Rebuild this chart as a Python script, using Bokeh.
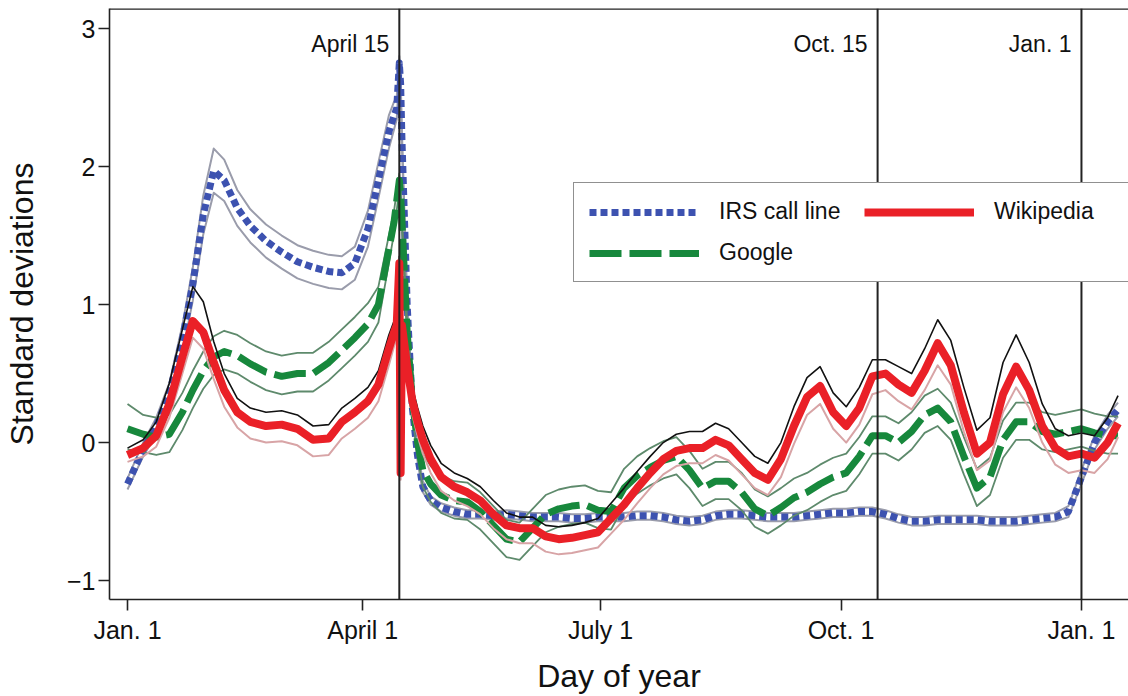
from bokeh.plotting import figure
from bokeh.models import Span, Label, Legend, LegendItem, FixedTicker, Range1d
from bokeh.embed import file_html
from bokeh.resources import INLINE

FONT = "Liberation Sans"

# ---- data (day of year, 0 = Jan. 1) ----
days = [0, 6, 11, 16, 21, 25, 29, 33, 37, 42,
        47, 53, 59, 65, 71, 77, 82, 87, 92, 96,
        100, 102, 103, 104, 104.5, 105, 106, 107, 109, 111,
        113, 116, 120,
        125, 130, 135, 140, 145, 150, 155, 160, 165, 170,
        175, 180, 185, 190, 195, 200, 205, 210, 215, 220,
        225, 230, 235, 240, 245, 250, 255, 260, 265, 270,
        275, 280, 285, 290, 295, 300, 305, 310, 315, 320,
        325, 330, 335, 340, 345, 350, 355, 360, 365, 370,
        375, 379]

irs = [-0.30, -0.05, 0.12, 0.35, 0.75, 1.15, 1.65, 1.97, 1.90, 1.70,
       1.57, 1.46, 1.38, 1.31, 1.27, 1.24, 1.23, 1.30, 1.55, 1.90,
       2.25, 2.37, 2.42, 2.75, 2.60, 2.20, 1.60, 1.00, 0.25, -0.10,
       -0.32, -0.42, -0.47,
       -0.50, -0.52, -0.52, -0.53, -0.52, -0.53, -0.54, -0.54, -0.54, -0.55,
       -0.55, -0.54, -0.54, -0.54, -0.53, -0.53, -0.54, -0.56, -0.57, -0.56,
       -0.53, -0.52, -0.52, -0.53, -0.54, -0.54, -0.54, -0.53, -0.52, -0.51,
       -0.51, -0.50, -0.50, -0.52, -0.55, -0.57, -0.57, -0.56, -0.56, -0.56,
       -0.56, -0.57, -0.57, -0.57, -0.56, -0.55, -0.54, -0.50, -0.25, 0.00,
       0.15, 0.24]
irs_hi = [-0.26, 0.00, 0.18, 0.43, 0.85, 1.27, 1.79, 2.13, 2.05, 1.83,
          1.69, 1.58, 1.50, 1.43, 1.39, 1.36, 1.35, 1.42, 1.68, 2.03,
          2.37, 2.47, 2.50, 2.80, 2.65, 2.25, 1.65, 1.05, 0.30, -0.06,
          -0.28, -0.39, -0.44,
          -0.47, -0.49, -0.49, -0.50, -0.49, -0.50, -0.51, -0.51, -0.51, -0.52,
          -0.52, -0.51, -0.51, -0.51, -0.50, -0.50, -0.51, -0.53, -0.54, -0.53,
          -0.50, -0.49, -0.49, -0.50, -0.51, -0.51, -0.51, -0.50, -0.49, -0.48,
          -0.48, -0.47, -0.47, -0.49, -0.52, -0.54, -0.54, -0.53, -0.53, -0.53,
          -0.53, -0.54, -0.54, -0.54, -0.53, -0.52, -0.51, -0.46, -0.20, 0.05,
          0.20, 0.29]
irs_lo = [-0.34, -0.10, 0.06, 0.27, 0.65, 1.03, 1.51, 1.81, 1.75, 1.57,
          1.45, 1.34, 1.26, 1.19, 1.15, 1.12, 1.11, 1.18, 1.42, 1.77,
          2.13, 2.27, 2.34, 2.70, 2.55, 2.15, 1.55, 0.95, 0.20, -0.14,
          -0.36, -0.45, -0.50,
          -0.53, -0.55, -0.55, -0.56, -0.55, -0.56, -0.57, -0.57, -0.57, -0.58,
          -0.58, -0.57, -0.57, -0.57, -0.56, -0.56, -0.57, -0.59, -0.60, -0.59,
          -0.56, -0.55, -0.55, -0.56, -0.57, -0.57, -0.57, -0.56, -0.55, -0.54,
          -0.54, -0.53, -0.53, -0.55, -0.58, -0.60, -0.60, -0.59, -0.59, -0.59,
          -0.59, -0.60, -0.60, -0.60, -0.59, -0.58, -0.57, -0.54, -0.30, -0.05,
          0.10, 0.19]

google = [0.10, 0.06, 0.04, 0.06, 0.22, 0.38, 0.52, 0.62, 0.66, 0.63,
          0.57, 0.51, 0.48, 0.50, 0.50, 0.58, 0.67, 0.76, 0.86, 1.00,
          1.40, 1.60, 1.75, 1.90, 1.80, 1.60, 1.20, 0.80, 0.30, 0.00,
          -0.20, -0.30, -0.38,
          -0.42, -0.43, -0.50, -0.60, -0.70, -0.72, -0.62, -0.52, -0.48, -0.46,
          -0.45, -0.49, -0.50, -0.33, -0.24, -0.18, -0.13, -0.10, -0.20, -0.33,
          -0.28, -0.28, -0.36, -0.48, -0.53, -0.47, -0.40, -0.36, -0.30, -0.25,
          -0.22, -0.10, 0.05, 0.05, 0.00, 0.08, 0.20, 0.25, 0.15, -0.10,
          -0.33, -0.25, 0.02, 0.15, 0.15, 0.08, 0.06, 0.08, 0.10, 0.07,
          0.05, 0.05]
google_hi = [0.28, 0.20, 0.18, 0.20, 0.36, 0.52, 0.66, 0.77, 0.81, 0.78,
             0.72, 0.66, 0.63, 0.65, 0.65, 0.73, 0.82, 0.91, 1.01, 1.13,
             1.50, 1.68, 1.82, 1.95, 1.85, 1.65, 1.26, 0.88, 0.40, 0.10,
             -0.08, -0.17, -0.24,
             -0.28, -0.29, -0.36, -0.46, -0.56, -0.58, -0.48, -0.38, -0.34, -0.32,
             -0.31, -0.35, -0.36, -0.19, -0.10, -0.04, 0.01, 0.04, -0.06, -0.19,
             -0.14, -0.14, -0.22, -0.34, -0.39, -0.33, -0.26, -0.22, -0.16, -0.11,
             -0.08, 0.04, 0.19, 0.19, 0.14, 0.22, 0.34, 0.39, 0.29, 0.04,
             -0.19, -0.11, 0.16, 0.29, 0.29, 0.22, 0.20, 0.22, 0.24, 0.21,
             0.19, 0.19]
google_lo = [-0.05, -0.07, -0.09, -0.07, 0.09, 0.25, 0.39, 0.49, 0.53, 0.50,
             0.44, 0.38, 0.35, 0.37, 0.37, 0.45, 0.54, 0.63, 0.73, 0.87,
             1.30, 1.52, 1.68, 1.85, 1.75, 1.55, 1.14, 0.72, 0.20, -0.10,
             -0.32, -0.43, -0.51,
             -0.55, -0.56, -0.63, -0.73, -0.83, -0.85, -0.75, -0.65, -0.61, -0.59,
             -0.58, -0.62, -0.63, -0.46, -0.37, -0.31, -0.26, -0.23, -0.33, -0.46,
             -0.41, -0.41, -0.49, -0.61, -0.66, -0.60, -0.53, -0.49, -0.43, -0.38,
             -0.35, -0.23, -0.08, -0.08, -0.13, -0.05, 0.07, 0.12, 0.02, -0.23,
             -0.46, -0.38, -0.11, 0.02, 0.02, -0.05, -0.07, -0.05, -0.03, -0.06,
             -0.08, -0.08]

wiki = [-0.09, -0.04, 0.05, 0.28, 0.62, 0.88, 0.80, 0.58, 0.38, 0.22,
        0.15, 0.12, 0.13, 0.10, 0.02, 0.03, 0.15, 0.22, 0.30, 0.42,
        0.68, 0.80, 0.85, 1.30, -0.22, 0.85, 0.70, 0.55, 0.30, 0.15,
        0.02, -0.12, -0.25,
        -0.32, -0.36, -0.42, -0.52, -0.60, -0.62, -0.62, -0.68, -0.70, -0.69,
        -0.67, -0.65, -0.55, -0.45, -0.33, -0.22, -0.12, -0.06, -0.04, -0.04,
        0.02, -0.02, -0.12, -0.22, -0.27, -0.12, 0.12, 0.33, 0.41, 0.22,
        0.12, 0.25, 0.48, 0.50, 0.42, 0.36, 0.52, 0.72, 0.56, 0.22,
        -0.08, 0.00, 0.35, 0.55, 0.38, 0.12, -0.04, -0.10, -0.08, -0.11,
        0.00, 0.14]
wiki_hi = [-0.04, 0.02, 0.15, 0.43, 0.82, 1.13, 1.02, 0.73, 0.50, 0.32,
           0.25, 0.22, 0.23, 0.20, 0.12, 0.13, 0.25, 0.32, 0.40, 0.52,
           0.78, 0.88, 0.92, 1.35, -0.17, 0.90, 0.78, 0.65, 0.40, 0.25,
           0.12, -0.02, -0.15,
           -0.22, -0.26, -0.32, -0.42, -0.51, -0.54, -0.54, -0.60, -0.61, -0.60,
           -0.58, -0.55, -0.44, -0.33, -0.21, -0.10, 0.00, 0.06, 0.08, 0.08,
           0.14, 0.10, 0.00, -0.10, -0.15, 0.00, 0.26, 0.47, 0.55, 0.36,
           0.26, 0.40, 0.60, 0.60, 0.55, 0.50, 0.68, 0.89, 0.74, 0.40,
           0.09, 0.18, 0.58, 0.78, 0.58, 0.28, 0.10, 0.05, 0.07, 0.05,
           0.18, 0.34]
wiki_lo = [-0.14, -0.10, -0.03, 0.18, 0.50, 0.76, 0.68, 0.46, 0.26, 0.11,
           0.03, 0.00, 0.01, -0.02, -0.10, -0.09, 0.03, 0.10, 0.18, 0.30,
           0.56, 0.70, 0.76, 1.22, -0.27, 0.78, 0.60, 0.45, 0.20, 0.05,
           -0.08, -0.22, -0.35,
           -0.42, -0.46, -0.52, -0.62, -0.70, -0.73, -0.73, -0.79, -0.81, -0.80,
           -0.78, -0.76, -0.66, -0.56, -0.44, -0.33, -0.23, -0.17, -0.15, -0.15,
           -0.09, -0.13, -0.23, -0.33, -0.38, -0.25, -0.01, 0.20, 0.28, 0.10,
           0.00, 0.13, 0.35, 0.38, 0.30, 0.24, 0.38, 0.56, 0.42, 0.08,
           -0.20, -0.13, 0.22, 0.40, 0.25, 0.00, -0.16, -0.22, -0.20, -0.22,
           -0.12, 0.04]

tick_days = [0, 90, 181, 273, 365]
tick_labels = ["Jan. 1", "April 1", "July 1", "Oct. 1", "Jan. 1"]
y_ticks = [-1, 0, 1, 2, 3]
event_days = [104, 287, 365]
event_labels = ["April 15", "Oct. 15", "Jan. 1"]

# ---- figure (Bokeh's page template has no body margin) ----
p = figure(width=1128, height=696, output_backend="svg", toolbar_location=None,
           x_range=Range1d(-6.89, 383.0), y_range=Range1d(-1.137, 3.145),
           min_border_left=109, min_border_right=0, min_border_top=8,
           min_border_bottom=96)
p.outline_line_color = None
p.xgrid.grid_line_color = None
p.ygrid.grid_line_color = None
p.background_fill_color = "white"

for ax in (p.xaxis[0], p.yaxis[0]):
    ax.axis_line_width = 1.6
    ax.axis_line_color = "#222222"
    ax.major_tick_line_width = 1.6
    ax.major_tick_line_color = "#222222"
    ax.major_tick_in = 0
    ax.major_tick_out = 11
    ax.minor_tick_line_color = None
    ax.major_label_text_font = FONT
    ax.major_label_text_font_size = "25px"
    ax.major_label_text_color = "#111111"
    ax.axis_label_text_font = FONT
    ax.axis_label_text_font_size = "32px"
    ax.axis_label_text_font_style = "normal"
    ax.axis_label_text_color = "#111111"

p.xaxis.ticker = FixedTicker(ticks=tick_days)
p.xaxis.major_label_overrides = {d: l for d, l in zip(tick_days, tick_labels)}
p.xaxis.major_label_standoff = 5
p.xaxis.axis_label = "Day of year"
p.xaxis.axis_label_standoff = 11

p.yaxis.ticker = FixedTicker(ticks=y_ticks)
p.yaxis.major_label_overrides = {-1: "\u22121"}
p.yaxis.major_label_standoff = 3
p.yaxis.axis_label = "Standard deviations"
p.yaxis.axis_label_standoff = 24

# top frame line
p.add_layout(Span(location=p.y_range.end, dimension="width",
                  line_color="#222222", line_width=2.5))

# event lines and labels
for d, lab in zip(event_days, event_labels):
    p.add_layout(Span(location=d, dimension="height", line_color="#222222",
                      line_width=2))
    p.add_layout(Label(x=d, y=2.89, text=lab, x_offset=-10, text_align="right",
                       text_baseline="alphabetic", text_font=FONT,
                       text_font_size="23px", text_color="#111111"))

# IRS
p.line(days, irs_hi, line_color="#9a9cab", line_width=2, line_join="round")
p.line(days, irs_lo, line_color="#9a9cab", line_width=2, line_join="round")
r_irs = p.line(days, irs, line_color="#3d52b0", line_width=7, line_dash="7 4",
               line_join="round")

# Google
p.line(days, google_hi, line_color="#5e8a6c", line_width=1.8, line_join="round")
p.line(days, google_lo, line_color="#5e8a6c", line_width=1.8, line_join="round")
r_google = p.line(days, google, line_color="#17883c", line_width=7,
                  line_dash="32 8", line_join="round")

# Wikipedia
p.line(days, wiki_lo, line_color="#d8a4a6", line_width=2, line_join="round")
p.line(days, wiki_hi, line_color="#111111", line_width=1.6, line_join="round")
r_wiki = p.line(days, wiki, line_color="#ea2027", line_width=8,
                line_join="round")

legend = Legend(items=[LegendItem(label="IRS call line", renderers=[r_irs]),
                       LegendItem(label="Google", renderers=[r_google]),
                       LegendItem(label="Wikipedia", renderers=[r_wiki])],
                location=(464, 317), nrows=2,
                label_text_font=FONT, label_text_font_size="23px",
                label_text_color="#111111",
                glyph_width=110, glyph_height=20, label_standoff=20,
                spacing=14, padding=15, margin=0, label_width=131,
                border_line_color="#222222", border_line_width=1.6,
                background_fill_alpha=1.0)
p.add_layout(legend)

open("out.html", "w").write(file_html(p, INLINE))
